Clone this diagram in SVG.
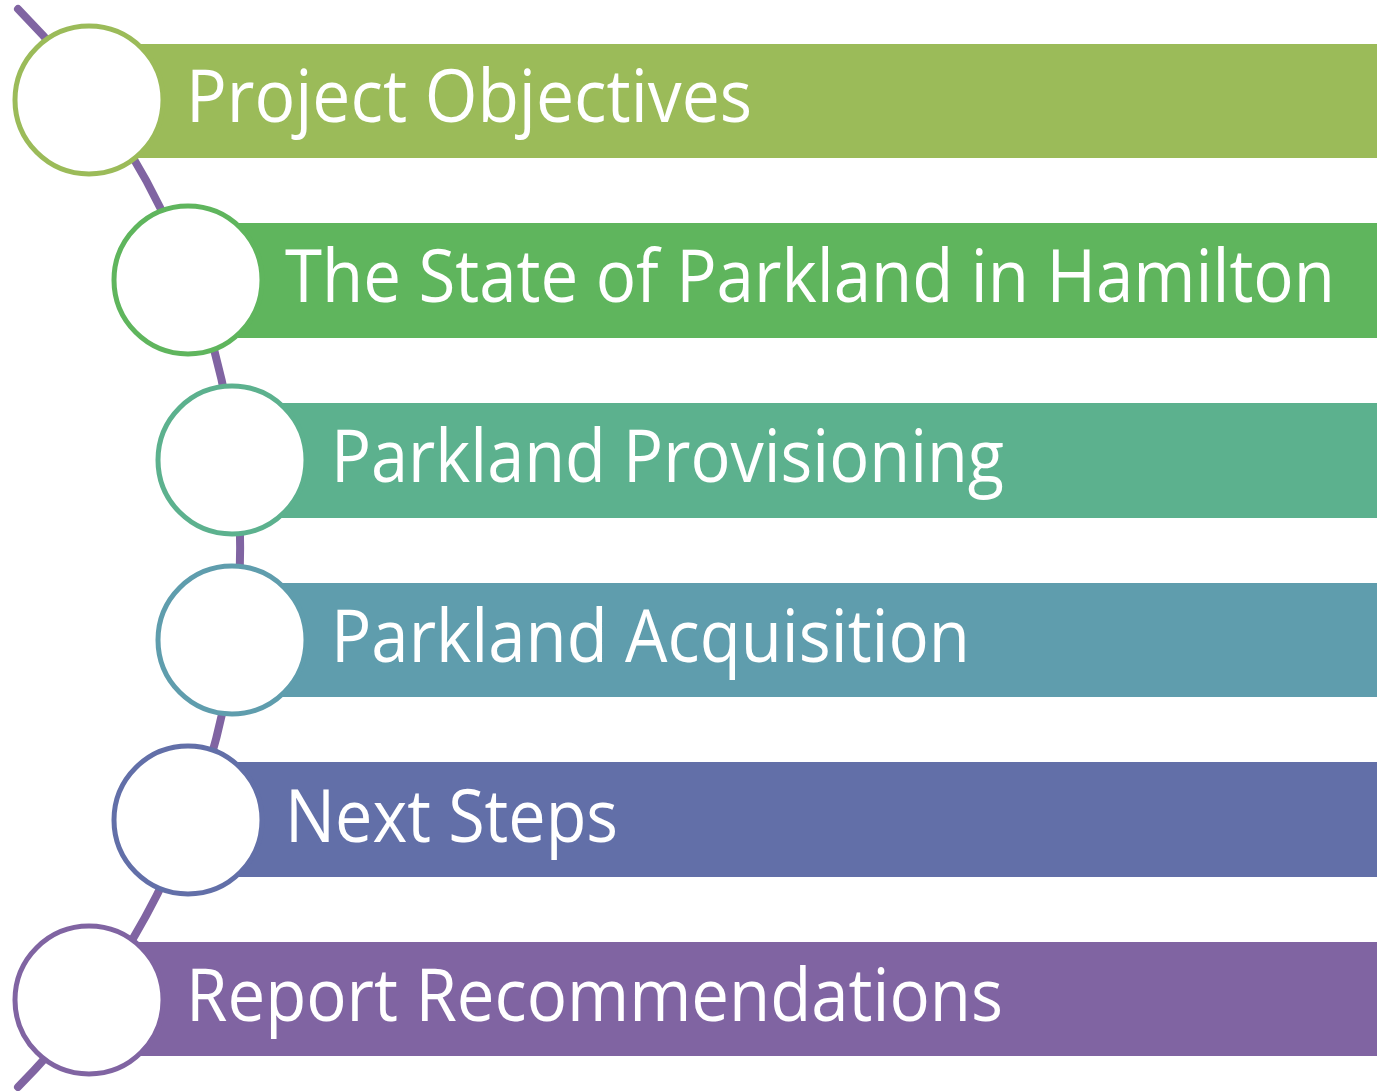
<svg xmlns="http://www.w3.org/2000/svg" width="1377" height="1091" viewBox="0 0 1377 1091">
<style>
.lbl{font-family:"Open Sans","Noto Sans","Liberation Sans",sans-serif;font-size:73px;fill:#ffffff}
.ring{fill:#ffffff;stroke-width:5}
</style>
<rect width="1377" height="1091" fill="#ffffff"/>
<g id="connectors">
<path d="M18,9 A765,765 0 0 1 18,1087" fill="none" stroke="#8064A2" stroke-width="8" stroke-linecap="round"/>
</g>
<g id="node1">
<rect x="89" y="44" width="1288" height="114" fill="#9BBB59"/>
<circle class="ring" cx="89" cy="100" r="74" stroke="#9BBB59"/>
<text class="lbl" x="186" y="122" textLength="566" lengthAdjust="spacingAndGlyphs">Project Objectives</text>
</g>
<g id="node2">
<rect x="188" y="223" width="1189" height="115" fill="#5FB55D"/>
<circle class="ring" cx="188" cy="280" r="74" stroke="#5FB55D"/>
<text class="lbl" x="285" y="302" textLength="1050" lengthAdjust="spacingAndGlyphs">The State of Parkland in Hamilton</text>
</g>
<g id="node3">
<rect x="232" y="403" width="1145" height="115" fill="#5CB18E"/>
<circle class="ring" cx="232" cy="460" r="74" stroke="#5CB18E"/>
<text class="lbl" x="331" y="482" textLength="673" lengthAdjust="spacingAndGlyphs">Parkland Provisioning</text>
</g>
<g id="node4">
<rect x="232" y="583" width="1145" height="114" fill="#5F9DAD"/>
<circle class="ring" cx="232" cy="640" r="74" stroke="#5F9DAD"/>
<text class="lbl" x="331" y="662" textLength="639" lengthAdjust="spacingAndGlyphs">Parkland Acquisition</text>
</g>
<g id="node5">
<rect x="188" y="762" width="1189" height="115" fill="#626FA8"/>
<circle class="ring" cx="188" cy="820" r="74" stroke="#626FA8"/>
<text class="lbl" x="285" y="842" textLength="333" lengthAdjust="spacingAndGlyphs">Next Steps</text>
</g>
<g id="node6">
<rect x="89" y="942" width="1288" height="114" fill="#8064A2"/>
<circle class="ring" cx="89" cy="1000" r="74" stroke="#8064A2"/>
<text class="lbl" x="186" y="1021" textLength="817" lengthAdjust="spacingAndGlyphs">Report Recommendations</text>
</g>
</svg>
